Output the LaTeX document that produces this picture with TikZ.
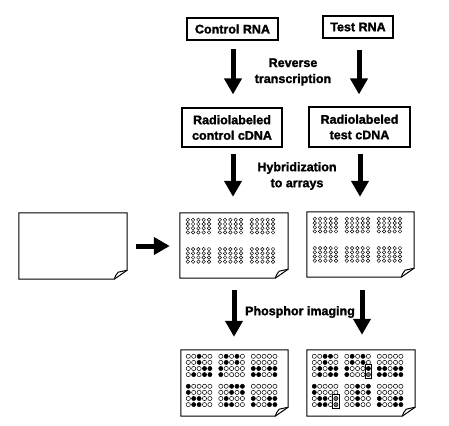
\documentclass[tikz,border=0pt]{standalone}
\usepackage{fontspec}
\setmainfont{Liberation Sans}[BoldFeatures={FakeBold=1.6}]
\usetikzlibrary{arrows.meta}
\newcommand\pageoutline[1]{%
  \draw[pageline] (#1.north west) -- (#1.north east) -- ([yshift=9pt]#1.south east)
    -- ([xshift=-13pt]#1.south east) -- (#1.south west) -- cycle;
  \draw[pageline] ([xshift=-13pt]#1.south east) to[bend left=12] ([xshift=-9pt,yshift=7pt]#1.south east)
    -- ([yshift=9pt]#1.south east);}
\newcommand\opengrid[1]{%
  \begin{scope}[shift={(#1.north west)}]
  \foreach \bx in {0,1,2}{\foreach \g in {0,1}{\foreach \r in {0,...,3}{\foreach \ci in {0,...,4}{
    \draw[line width=0.45pt] ({8+\bx*32+\ci*5.3},{7+\g*29.3+\r*4.2}) circle[radius=1.75];}}}}
  \end{scope}}
\newcommand\spots[2]{%
  \begin{scope}[shift={(#1.north west)}]
  \foreach \bx/\g/\r/\a/\b/\cc/\d/\e in {#2}{
    \foreach \v [count=\ci from 0] in {\a,\b,\cc,\d,\e}{
      \pgfmathtruncatemacro\pc{\v==2 ? 55 : \v*100}
      \draw[line width=0.5pt, fill=black!\pc] ({7.5+\bx*32.5+\ci*5.4},{6.5+\g*30+\r*6.1}) circle[radius=2.1];}}
  \end{scope}}
\begin{document}
\begin{tikzpicture}[x=1pt,y=-1pt,
  lbl/.style={font=\fontsize{12.5}{16}\selectfont\bfseries, align=center, inner sep=0},
  tbox/.style={draw, line width=1.2pt, font=\fontsize{12.5}{15.5}\selectfont\bfseries, align=center, inner sep=0},
  bigarrow/.style={line width=5pt, -{Triangle[width=17pt,length=16pt]}},
  pagebox/.style={inner sep=0, minimum width=108pt, minimum height=66pt},
  pageline/.style={line width=1pt, line join=miter}]
\useasboundingbox (0,0) rectangle (449,425);
% text boxes
\node[tbox, minimum width=91pt, minimum height=22pt] (crna) at (232.5,29) {Control RNA};
\node[tbox, minimum width=70pt, minimum height=22pt] (trna) at (358,27) {Test RNA};
\node[tbox, minimum width=100pt, minimum height=39pt] (rcc) at (232,127.5) {Radiolabeled\\control cDNA};
\node[tbox, minimum width=101pt, minimum height=40pt] (rtc) at (359.5,127) {Radiolabeled\\test cDNA};
% pages
\node[pagebox] (blank) at (73,246) {};
\node[pagebox, minimum width=108pt, minimum height=65pt] (pa) at (234,245.5) {};
\node[pagebox, minimum width=107pt, minimum height=65pt] (pb) at (360.5,244.5) {};
\node[pagebox, minimum width=107pt] (pc) at (234.5,383) {};
\node[pagebox] (pd) at (361,383) {};
\pageoutline{blank}
\pageoutline{pa}
\pageoutline{pb}
\pageoutline{pc}
\pageoutline{pd}
\opengrid{pa}
\opengrid{pb}
\spots{pc}{0/0/0/0/0/1/0/0, 0/0/1/0/0/1/0/0, 0/0/2/0/0/0/1/1, 0/0/3/0/1/0/1/1,
 1/0/0/0/1/0/1/0, 1/0/1/0/1/0/1/0, 1/0/2/1/0/0/0/0, 1/0/3/1/0/0/0/0,
 2/0/0/0/0/0/0/0, 2/0/1/0/0/0/0/0, 2/0/2/1/1/0/1/1, 2/0/3/1/1/0/0/1,
 0/1/0/1/0/0/0/0, 0/1/1/1/0/0/0/0, 0/1/2/0/1/1/0/0, 0/1/3/0/1/1/0/0,
 1/1/0/0/0/1/1/1, 1/1/1/0/0/1/0/1, 1/1/2/0/1/0/0/0, 1/1/3/0/1/1/0/0,
 2/1/0/0/0/0/0/0, 2/1/1/0/0/0/0/0, 2/1/2/1/0/0/1/1, 2/1/3/1/0/0/1/1}
\spots{pd}{0/0/0/0/0/1/1/0, 0/0/1/0/0/1/0/0, 0/0/2/0/1/0/1/1, 0/0/3/0/1/0/1/1,
 1/0/0/0/1/0/1/0, 1/0/1/0/1/0/1/0, 1/0/2/1/0/0/0/1, 1/0/3/1/0/0/0/2,
 2/0/0/0/0/0/0/0, 2/0/1/0/0/0/0/0, 2/0/2/1/1/0/1/1, 2/0/3/1/1/0/1/1,
 0/1/0/1/0/0/0/0, 0/1/1/1/0/0/0/0, 0/1/2/0/1/1/0/2, 0/1/3/0/1/1/0/2,
 1/1/0/0/0/1/0/1, 1/1/1/0/0/1/0/1, 1/1/2/0/0/1/0/0, 1/1/3/0/0/1/0/0,
 2/1/0/0/0/0/0/0, 2/1/1/0/0/0/0/0, 2/1/2/1/0/0/1/1, 2/1/3/1/0/0/1/1}
\begin{scope}[shift={(pd.north west)}]
  \draw[line width=0.8pt] (58.5,15) rectangle (65,28.5);
  \draw[line width=0.8pt] (26,45) rectangle (32.5,58.5);
\end{scope}
% labels
\node[lbl] (rt) at (293,72) {Reverse\\transcription};
\node[lbl] (hy) at (297,176) {Hybridization\\to arrays};
\node[lbl] (ph) at (300,312) {Phosphor imaging};
% arrows
\draw[bigarrow, shorten <=8pt, shorten >=13pt] (crna.south -| 233,0) -- (rcc.north -| 233,0);
\draw[bigarrow, shorten <=11pt, shorten >=12pt] (trna.south -| 359,0) -- (rtc.north -| 359,0);
\draw[bigarrow, shorten <=6pt, shorten >=16pt] (rcc.south -| 233,0) -- (pa.north -| 233,0);
\draw[bigarrow, shorten <=6pt, shorten >=15pt] (rtc.south -| 360,0) -- (pb.north -| 360,0);
\draw[bigarrow, shorten <=12pt, shorten >=13pt] (pa.south -| 234,0) -- (pc.north -| 234,0);
\draw[bigarrow, shorten <=13pt, shorten >=15pt] (pb.south -| 362,0) -- (pd.north -| 362,0);
\draw[bigarrow, shorten <=9pt, shorten >=10pt] (blank.east |- 0,246) -- (pa.west |- 0,246);
\end{tikzpicture}
\end{document}
